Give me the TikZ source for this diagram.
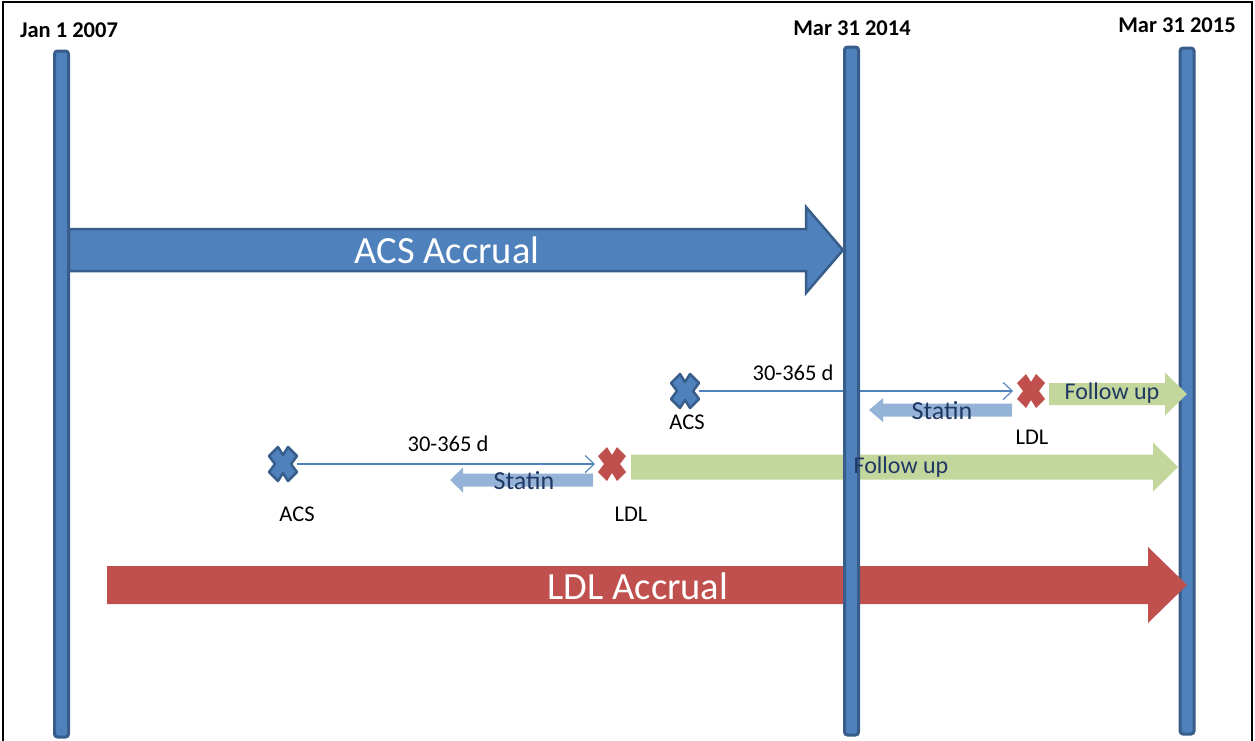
\documentclass[tikz,border=0pt]{standalone}
\usepackage{fontspec}
\setmainfont{Carlito}
\usetikzlibrary{arrows.meta}
\definecolor{bfill}{HTML}{4F81BD}
\definecolor{bdark}{HTML}{385D8A}
\definecolor{rfill}{HTML}{C0504D}
\definecolor{gfill}{HTML}{C3D69B}
\definecolor{lbfill}{HTML}{95B3D7}
\definecolor{navy}{HTML}{1F3864}
\newcommand\myrarrow[6]{(#1,#4-#5) -- (#2,#4-#5) -- (#2,#4-#6) -- (#3,#4) -- (#2,#4+#6) -- (#2,#4+#5) -- (#1,#4+#5) -- cycle}
\tikzset{
  xmark/.pic={\path[pic actions] (-14,-8) -- (-5,-17) -- (0,-9) -- (5,-17) -- (14,-8) -- (8,0) -- (14,8) -- (5,17) -- (0,9) -- (-5,17) -- (-14,8) -- (-8,0) -- cycle;},
  bluex/.style={fill=bfill, draw=bdark, line width=2.5pt, line join=round},
  redx/.style={fill=rfill},
  xspot/.style={minimum width=28pt, minimum height=32pt, inner sep=0pt, outer sep=0pt},
  barbox/.style={fill=bfill, draw=bdark, line width=3pt, rounded corners=3pt, minimum width=14pt, inner sep=0pt},
  datelbl/.style={font=\fontsize{22.5}{26}\selectfont\bfseries, inner sep=0pt},
  smalllbl/.style={font=\fontsize{22.5}{26}\selectfont, inner sep=0pt},
  biglbl/.style={font=\fontsize{38.5}{44}\selectfont, text=white, inner sep=0pt},
  fuplbl/.style={font=\fontsize{24}{28}\selectfont, text=navy, inner sep=0pt},
  statlbl/.style={font=\fontsize{26}{30}\selectfont, text=navy, inner sep=0pt},
  gap/.style={draw=bfill, line width=1.1pt, -{Straight Barb[length=9pt, width=17pt, line width=1.1pt]}},
}
\begin{document}
\begin{tikzpicture}[x=1pt, y=-1pt]
\useasboundingbox (0,0) rectangle (1255,740);
% frame
\draw[black, line width=2.2pt] (3,741) -- (3,2) -- (1252,2) -- (1252,741);
% bars behind arrows
\node[barbox, minimum height=686pt] (bar1) at (61.5,394) {};
\node[barbox, minimum height=686pt] (bar3) at (1187,391) {};
% big arrows
\draw[fill=bfill, draw=bdark, line width=2.5pt] \myrarrow{69}{806}{843}{250}{21}{43};
\fill[rfill] \myrarrow{107}{1148}{1187}{585}{19}{38};
% follow up arrows
\fill[gfill] \myrarrow{631}{1153}{1178}{467}{12.5}{24.5};
\fill[gfill] \myrarrow{1049}{1165}{1187}{394}{11}{21.5};
% statin arrows
\fill[lbfill] \myrarrow{1012}{883}{869}{410}{6.5}{12};
\fill[lbfill] \myrarrow{593}{463}{450}{480}{6.5}{12.5};
% event spots
\node[xspot] (acsA) at (685,391) {};
\node[xspot] (ldlA) at (1031,391) {};
\node[xspot] (acsB) at (283,464) {};
\node[xspot] (ldlB) at (612,464) {};
% interval connectors
\draw[gap] (acsA.east) -- ([xshift=-4pt]ldlA.west);
\draw[gap] (acsB.east) -- ([xshift=-3pt]ldlB.west);
% middle bar on top
\node[barbox, minimum height=688pt] (bar2) at (851.5,391) {};
% x marks
\pic[bluex] at (acsA) {xmark};
\pic[redx] at (ldlA) {xmark};
\pic[bluex] at (acsB) {xmark};
\pic[redx] at (ldlB) {xmark};
% arrow texts
\node[biglbl] (acsacc) at (447,250) {ACS Accrual};
\node[biglbl] (ldlacc) at (638,586) {LDL Accrual};
\node[fuplbl] (fu2) at (901,467) {Follow up};
\node[fuplbl] (fu1) at (1112,393) {Follow up};
\node[statlbl] (st1) at (942,411) {Statin};
\node[statlbl] (st2) at (524,481) {Statin};
% labels
\node[smalllbl] (d1) at (793,373) {30-365 d};
\node[smalllbl] (d2) at (448,444) {30-365 d};
\node[smalllbl] (acsAl) at (687,422) {ACS};
\node[smalllbl] (ldlAl) at (1032,437) {LDL};
\node[smalllbl] (acsBl) at (297,514) {ACS};
\node[smalllbl] (ldlBl) at (631,514) {LDL};
% dates
\node[datelbl] (t1) at (69,30) {Jan 1 2007};
\node[datelbl] (t2) at (852,28) {Mar 31 2014};
\node[datelbl] (t3) at (1177,25) {Mar 31 2015};
\end{tikzpicture}
\end{document}
